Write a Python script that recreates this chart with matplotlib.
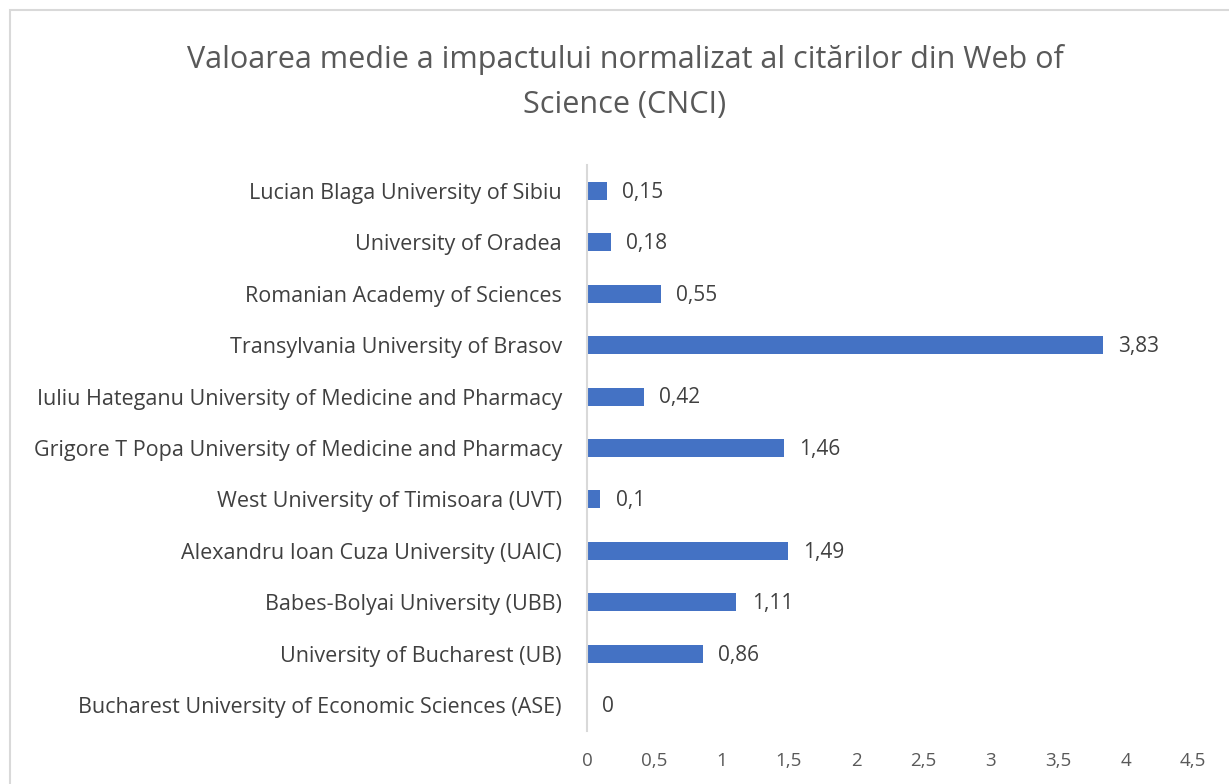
import matplotlib.pyplot as plt
from matplotlib.patches import Rectangle

universities = [
    "Bucharest University of Economic Sciences (ASE)",
    "University of Bucharest (UB)",
    "Babes-Bolyai University (UBB)",
    "Alexandru Ioan Cuza University (UAIC)",
    "West University of Timisoara (UVT)",
    "Grigore T Popa University of Medicine and Pharmacy",
    "Iuliu Hateganu University of Medicine and Pharmacy",
    "Transylvania University of Brasov",
    "Romanian Academy of Sciences",
    "University of Oradea",
    "Lucian Blaga University of Sibiu",
]
cnci = [0, 0.86, 1.11, 1.49, 0.1, 1.46, 0.42, 3.83, 0.55, 0.18, 0.15]
xticks = [0, 0.5, 1, 1.5, 2, 2.5, 3, 3.5, 4, 4.5]

plt.rcParams['font.family'] = ['Open Sans', 'DejaVu Sans']

fig = plt.figure(figsize=(12.29, 7.84), dpi=100)
ax = fig.add_axes([0.4776, 0.0676, 0.4931, 0.7219])

# chart frame
fig.patches.append(Rectangle((10 / 1229, -0.1), 1.2, 1 - 10 / 784 + 0.1,
                             transform=fig.transFigure, fill=False,
                             edgecolor='#d9d9d9', linewidth=1.5))

y = range(len(universities))
ax.barh(y, cnci, height=0.35, color='#4472C4')
for i, v in zip(y, cnci):
    txt = f"{v:g}".replace('.', ',')
    ax.annotate(txt, (v, i), xytext=(11, -1), textcoords='offset points',
                va='center', ha='left', fontsize=15, color='#404040')

ax.set_xlim(0, 4.5)
ax.set_ylim(-0.5, len(universities) - 0.5)
ax.set_xticks(xticks)
ax.set_xticklabels([f"{t:g}".replace('.', ',') for t in xticks])
ax.set_yticks(list(y))
ax.set_yticklabels(universities)
ax.tick_params(axis='x', length=0, pad=15, labelsize=13.5, labelcolor='#595959')
ax.tick_params(axis='y', length=0, pad=18, labelsize=15.5, labelcolor='#404040')
for s in ['top', 'right', 'bottom']:
    ax.spines[s].set_visible(False)
ax.spines['left'].set_color('#d9d9d9')
ax.spines['left'].set_linewidth(1.5)

fig.text(625 / 1229, 1 - 82 / 784,
         "Valoarea medie a impactului normalizat al citărilor din Web of\nScience (CNCI)",
         ha='center', va='center', fontsize=22, color='#595959', linespacing=1.65)

fig.savefig('out.png', dpi=100)
